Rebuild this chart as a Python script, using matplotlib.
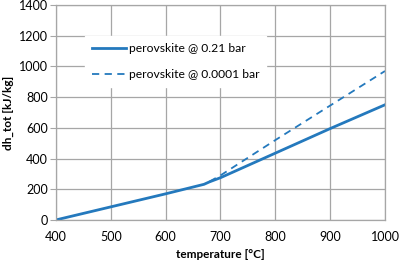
import matplotlib
matplotlib.use("Agg")
from matplotlib import pyplot as plt

# values
temp_air = [400, 500, 600, 670, 680, 700, 800, 900, 1000]
dh_air = [0, 85, 170, 232, 248, 275, 435, 595, 750]

temp_vac = [680, 700, 800, 900, 1000]
dh_vac = [250, 290, 520, 745, 970]

x_ticks = [400, 500, 600, 700, 800, 900, 1000]
y_ticks = [0, 200, 400, 600, 800, 1000, 1200, 1400]

BLUE = "#2479bd"
GRID = "#a6a6a6"

plt.rcParams["font.family"] = ["Lato", "DejaVu Sans"]

fig = plt.figure(figsize=(4, 2.64), dpi=100)
ax = fig.add_axes([0.14, 0.167, 0.8225, 0.814])

ax.plot(temp_air, dh_air, color=BLUE, lw=2.0, label="perovskite @ 0.21 bar")
ax.plot(temp_vac, dh_vac, color=BLUE, lw=1.3, ls=(0, (4, 3)),
        label="perovskite @ 0.0001 bar")

ax.set_xlim(400, 1000)
ax.set_ylim(0, 1400)
ax.set_xticks(x_ticks)
ax.set_yticks(y_ticks)
ax.grid(True, color=GRID, lw=0.9)
ax.set_axisbelow(True)
for s in ax.spines.values():
    s.set_color(GRID)
    s.set_linewidth(0.9)
ax.tick_params(axis="y", length=4, color=GRID, labelsize=9, pad=2)
ax.tick_params(axis="x", length=0, labelsize=9, pad=8)

ax.set_xlabel("temperature [°C]", fontsize=8.5, fontweight="bold", labelpad=4)
ax.set_ylabel("dh_tot [kJ/kg]", fontsize=8.5, fontweight="bold", labelpad=3)

leg = ax.legend(loc="upper left", bbox_to_anchor=(0.07, 0.885), fontsize=8.7,
                frameon=True, fancybox=False, edgecolor="white",
                framealpha=1.0, handlelength=2.8, handletextpad=0.2,
                labelspacing=1.25, borderpad=0.6)

fig.savefig("out.png", dpi=100)
